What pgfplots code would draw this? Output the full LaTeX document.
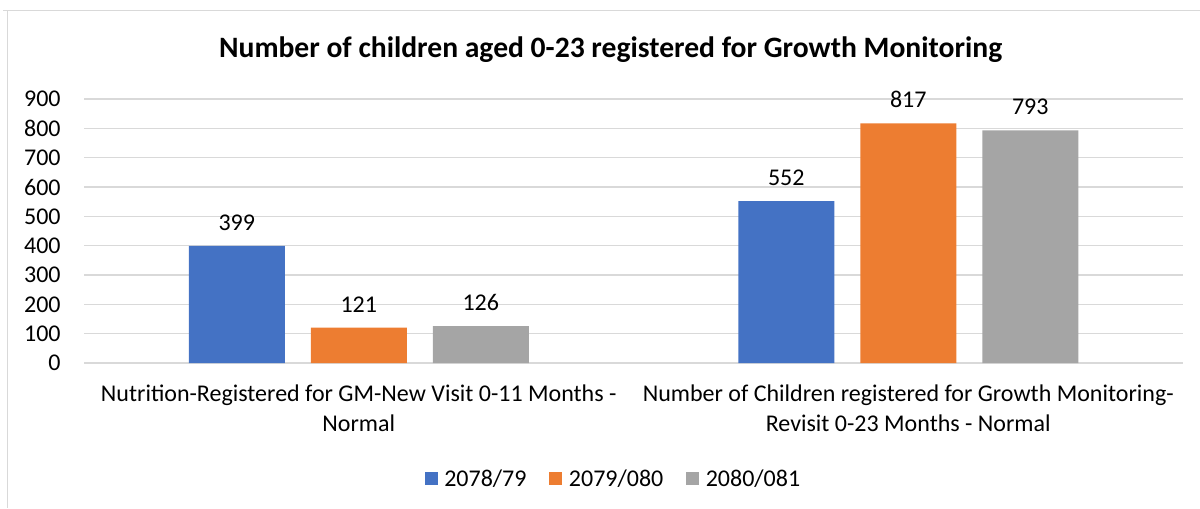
\documentclass[border=0pt]{standalone}
\usepackage{fontspec}
\setmainfont{Carlito}
\usepackage{pgfplots}
\pgfplotsset{compat=1.18}
\pgfkeys{/pgf/number format/assume math mode=true}
\definecolor{cblue}{HTML}{4472C4}
\definecolor{corange}{HTML}{ED7D31}
\definecolor{cgray}{HTML}{A5A5A5}
\definecolor{cgrid}{HTML}{D9D9D9}
\begin{document}
\begin{tikzpicture}
\path[use as bounding box] (0,0) rectangle (900pt,381pt);
\draw[cgrid, line width=1pt] (2.25pt,373pt) -- (900pt,373pt);
\draw[cgrid, line width=1pt] (5.6pt,373pt) -- (5.6pt,0pt);
\node[anchor=base, font=\fontsize{22.2}{26}\selectfont\bfseries] at (458pt,338pt) {Number of children aged 0-23 registered for Growth Monitoring};
\begin{axis}[
  at={(63pt,108.75pt)}, anchor=south west,
  scale only axis, width=824.25pt, height=198pt,
  xmin=-0.5, xmax=1.5, ymin=0, ymax=900,
  ytick={0,100,...,900},
  xtick={0,1},
  xticklabels={{Nutrition-Registered for GM-New Visit 0-11 Months -\\Normal},{Number of Children registered for Growth Monitoring-\\Revisit 0-23 Months - Normal}},
  xticklabel style={align=center, font=\fontsize{18}{22.5}\selectfont, yshift=-13pt},
  yticklabel style={font=\fontsize{18}{20}\selectfont, xshift=-14pt},
  ymajorgrids, grid style={cgrid, line width=1pt},
  axis line style={draw=none},
  major tick length=0pt,
  ybar, bar width=72pt,
  nodes near coords,
  every node near coord/.append style={font=\fontsize{18}{20}\selectfont, black, yshift=8pt},
  legend columns=3,
  legend style={at={(0.482,-0.439)}, anchor=center, draw=none, font=\fontsize{18}{20}\selectfont, /tikz/every odd column/.append style={column sep=3pt}, /tikz/every even column/.append style={column sep=15pt}},
  legend image code/.code={\fill[#1] (0pt,-4.9pt) rectangle (9.8pt,4.9pt);},
]
\addplot[fill=cblue, draw=none, bar shift=-91.5pt] coordinates {(0,399) (1,552)};
\addplot[fill=corange, draw=none, bar shift=0pt] coordinates {(0,121) (1,817)};
\addplot[fill=cgray, draw=none, bar shift=91.5pt] coordinates {(0,126) (1,793)};
\legend{2078/79,2079/080,2080/081}
\end{axis}
\end{tikzpicture}
\end{document}
